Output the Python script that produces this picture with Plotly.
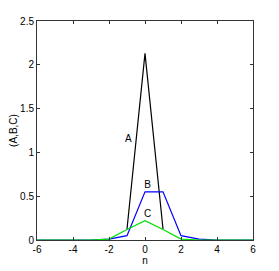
import plotly.graph_objects as go

n_all = list(range(-6, 7))
n_a = [-1, 0, 1]
a_vals = [0.125, 2.13, 0.125]
b_vals = [0, 0, 0, 0, 0.01, 0.05, 0.55, 0.55, 0.05, 0.01, 0, 0, 0]
c_vals = [0, 0, 0, 0, 0.01, 0.12, 0.22, 0.12, 0.01, 0, 0, 0, 0]
labels = ["A", "B", "C"]
label_x = [-0.93, 0.14, 0.14]
label_y = [1.15, 0.62, 0.29]
x_ticks = [-6, -4, -2, 0, 2, 4, 6]
y_ticks = [0, 0.5, 1, 1.5, 2, 2.5]

fig = go.Figure()
fig.add_trace(go.Scatter(x=n_a, y=a_vals, mode="lines", line=dict(color="black", width=1.2)))
fig.add_trace(go.Scatter(x=n_all, y=b_vals, mode="lines", line=dict(color="#0000ff", width=1.2)))
fig.add_trace(go.Scatter(x=n_all, y=c_vals, mode="lines", line=dict(color="#00e000", width=1.2)))
fig.add_trace(go.Scatter(x=label_x, y=label_y, mode="text", text=labels,
                         textfont=dict(size=10, color="black", family="Liberation Sans")))

axis_common = dict(showgrid=False, zeroline=False, showline=True, linecolor="#333333", linewidth=1,
                   mirror="ticks", ticks="inside", ticklen=3, tickcolor="#333333", automargin=False,
                   tickfont=dict(size=10, color="black", family="Liberation Sans"))
fig.update_layout(
    width=271, height=263, showlegend=False,
    margin=dict(l=29, r=26, t=13, b=31),
    plot_bgcolor="white", paper_bgcolor="white",
    xaxis=dict(range=[-6, 6], tickvals=x_ticks, ticktext=[str(v) for v in x_ticks],
               title=dict(text="n", font=dict(size=10, color="black", family="Liberation Sans"), standoff=2),
               **axis_common),
    yaxis=dict(range=[0, 2.5], tickvals=y_ticks, ticktext=[str(v) for v in y_ticks],
               title=dict(text="(A,B,C)", font=dict(size=10, color="black", family="Liberation Sans"), standoff=4),
               **axis_common),
)
fig.write_html("out.html")
